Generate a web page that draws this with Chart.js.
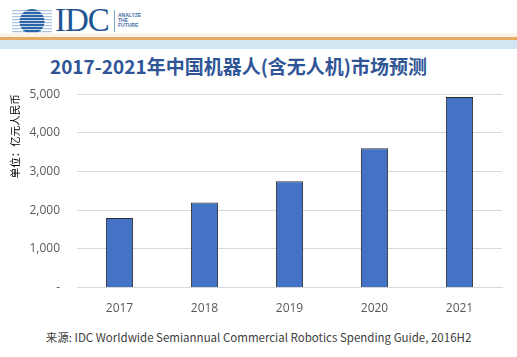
<!DOCTYPE html>
<html><head><meta charset="utf-8">
<script src="https://cdn.jsdelivr.net/npm/chart.js@4/dist/chart.umd.min.js"></script>
<style>
html,body{margin:0;padding:0;background:#fff;}
body{width:517px;height:357px;position:relative;overflow:hidden;font-family:"Noto Sans CJK SC","Liberation Sans",sans-serif;}
#globe{position:absolute;left:12px;top:9px;width:40px;height:25px;}
#idc{position:absolute;left:55px;top:4px;font-family:"Liberation Serif","DejaVu Serif",serif;font-size:33px;color:#1f5591;letter-spacing:-1px;line-height:33px;}
#vline{position:absolute;left:114px;top:10px;width:1px;height:22px;background:#7fa6cc;}
#tag{position:absolute;left:118px;top:13px;font-family:"Liberation Sans",sans-serif;font-size:5px;line-height:5px;color:#3f6fa5;font-weight:bold;}
#cream{position:absolute;left:0;top:33px;width:517px;height:4px;background:#fdf3e6;}
#orange{position:absolute;left:0;top:37px;width:517px;height:3px;background:#e6aa62;}
#blue{position:absolute;left:0;top:40px;width:517px;height:9px;background:#d2e5f3;}
#title{position:absolute;left:0;width:477px;text-align:center;top:54px;font-size:19px;font-weight:bold;color:#2f5597;line-height:24px;font-family:"Noto Sans CJK SC",sans-serif;}
#wrap{position:absolute;left:0;top:70px;width:517px;height:252px;}
#foot{position:absolute;left:0;width:517px;text-align:center;top:329px;font-size:11.5px;color:#404040;font-family:"Noto Sans CJK SC","Open Sans",sans-serif;line-height:16px;}
</style></head>
<body>
<svg id="globe" viewBox="0 0 40 25">
<defs><clipPath id="c"><circle cx="20" cy="12.5" r="12.5"/></clipPath></defs>
<g fill="#a9c4e2">
<rect x="0" y="1" width="40" height="1.2"/><rect x="0" y="4" width="40" height="1.2"/><rect x="0" y="7" width="40" height="1.2"/><rect x="0" y="10" width="40" height="1.2"/><rect x="0" y="13" width="40" height="1.2"/><rect x="0" y="16" width="40" height="1.2"/><rect x="0" y="19" width="40" height="1.2"/><rect x="0" y="22" width="40" height="1.2"/>
</g>
<g clip-path="url(#c)" fill="#2a65a8">
<rect x="0" y="0" width="40" height="2.2"/><rect x="0" y="3" width="40" height="2.2"/><rect x="0" y="6" width="40" height="2.2"/><rect x="0" y="9" width="40" height="2.2"/><rect x="0" y="12" width="40" height="2.2"/><rect x="0" y="15" width="40" height="2.2"/><rect x="0" y="18" width="40" height="2.2"/><rect x="0" y="21" width="40" height="2.2"/><rect x="0" y="24" width="40" height="2.2"/>
</g>
</svg>
<div id="idc">IDC</div>
<div id="vline"></div>
<div id="tag">ANALYZE<br>THE<br>FUTURE</div>
<div id="cream"></div><div id="orange"></div><div id="blue"></div>
<div id="title">2017-2021年中国机器人(含无人机)市场预测</div>
<div id="wrap"><canvas id="chart" width="517" height="252"></canvas></div>
<div id="foot">来源: IDC Worldwide Semiannual Commercial Robotics Spending Guide, 2016H2</div>
<script>
const years = ["2017", "2018", "2019", "2020", "2021"];
const marketValues = [1800, 2200, 2750, 3600, 4930];
const yTicks = [0, 1000, 2000, 3000, 4000, 5000];
const yAxisTitle = "单位：亿元人民币";

new Chart(document.getElementById("chart"), {
  type: "bar",
  data: {
    labels: years,
    datasets: [{
      data: marketValues,
      backgroundColor: "#4472c4",
      borderColor: "#2b2b2b",
      borderWidth: 1,
      barPercentage: 0.64,
      categoryPercentage: 0.5
    }]
  },
  options: {
    responsive: false,
    animation: false,
    layout: { padding: { left: 9, right: 15, top: 8, bottom: 0 } },
    plugins: { legend: { display: false }, tooltip: { enabled: false } },
    scales: {
      x: {
        grid: { display: false },
        border: { display: true, color: "#d9d9d9" },
        ticks: { color: "#595959", font: { family: "Open Sans", size: 12 }, padding: 6 }
      },
      y: {
        min: 0, max: 5000,
        afterBuildTicks: (axis) => { axis.ticks = yTicks.map(v => ({ value: v })); },
        afterFit: (scale) => { scale.width = 68; },
        grid: { color: "#d9d9d9", drawTicks: false },
        border: { display: false },
        ticks: {
          color: "#595959", font: { family: "Open Sans", size: 12 }, padding: 17,
          callback: (v) => v === 0 ? "-" : v.toLocaleString("en-US")
        },
        title: {
          display: true, text: yAxisTitle, align: "end",
          color: "#000", font: { family: "Noto Sans CJK SC", size: 10.5 }, padding: { top: 0, bottom: 3 }
        }
      }
    }
  }
});
</script>
</body></html>
